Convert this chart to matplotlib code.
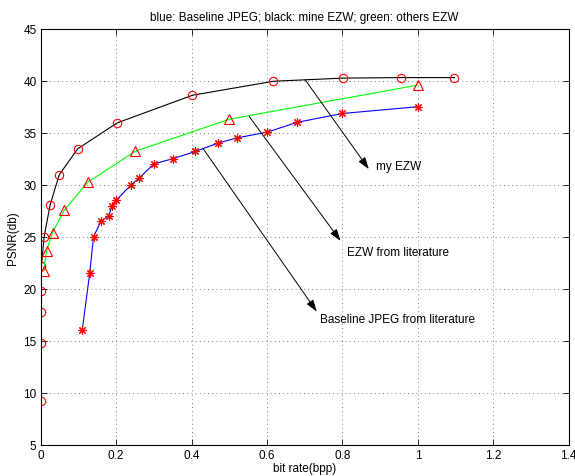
import matplotlib
matplotlib.use("Agg")
import matplotlib.pyplot as plt

plt.rcParams['font.family'] = ['Liberation Sans', 'DejaVu Sans']

# --- data ---
jpeg_rate = [0.11, 0.13, 0.14, 0.16, 0.18, 0.19, 0.20, 0.24, 0.26, 0.30, 0.35, 0.41,
             0.47, 0.52, 0.60, 0.68, 0.80, 1.00]
jpeg_psnr = [16.0, 21.5, 25.0, 26.5, 27.0, 28.0, 28.5, 30.0, 30.6, 32.0, 32.5, 33.2,
             34.0, 34.5, 35.05, 36.0, 36.85, 37.5]

mine_rate = [0.0, 0.0, 0.0, 0.0, 0.002, 0.009, 0.025, 0.049, 0.098, 0.203, 0.402,
             0.617, 0.801, 0.956, 1.097]
mine_psnr = [9.2, 14.8, 17.75, 19.8, 22.2, 25.0, 28.05, 30.95, 33.45, 35.95, 38.6,
             39.95, 40.25, 40.3, 40.3]

lit_rate = [0.0078, 0.0156, 0.0313, 0.0625, 0.125, 0.25, 0.5, 1.0]
lit_psnr = [21.7, 23.65, 25.4, 27.55, 30.25, 33.2, 36.3, 39.58]

xticks = [0, 0.2, 0.4, 0.6, 0.8, 1, 1.2, 1.4]
xticklabels = ['0', '0.2', '0.4', '0.6', '0.8', '1', '1.2', '1.4']
yticks = [5, 10, 15, 20, 25, 30, 35, 40, 45]

title = 'blue: Baseline JPEG; black: mine EZW; green: others EZW'
xlabel = 'bit rate(bpp)'
ylabel = 'PSNR(db)'

# annotations: (text, arrow tail, arrow head, text position)
notes = [
    ('my EZW', (0.701, 40.1), (0.870, 31.5), (0.890, 31.8)),
    ('EZW from literature', (0.553, 36.55), (0.795, 24.6), (0.811, 23.55)),
    ('Baseline JPEG from literature', (0.430, 33.5), (0.732, 17.8), (0.741, 17.1)),
]

fig = plt.figure(figsize=(5.75, 4.77), dpi=100)
ax = fig.add_axes([0.0708, 0.0656, 0.9183, 0.8721])

ax.plot(jpeg_rate, jpeg_psnr, '-', color='b', lw=0.8, marker=(8, 2, 0),
        markersize=6, markeredgecolor='r', markeredgewidth=0.8)
ax.plot(mine_rate, mine_psnr, '-', color='k', lw=0.8, marker='o', markersize=6,
        markerfacecolor='none', markeredgecolor='r', markeredgewidth=0.8)
ax.plot(lit_rate, lit_psnr, '-', color='#00ff00', lw=0.8, marker='^', markersize=6.5,
        markerfacecolor='none', markeredgecolor='r', markeredgewidth=0.8)

for txt, tail, head, tpos in notes:
    ax.annotate('', xy=head, xytext=tail,
                arrowprops=dict(arrowstyle='-|>,head_length=0.6,head_width=0.2',
                                color='k', lw=0.7, mutation_scale=12,
                                shrinkA=0, shrinkB=0))
    ax.text(tpos[0], tpos[1], txt, fontsize=8.5, ha='left', va='center', color='k')

ax.set_xlim(0, 1.4)
ax.set_ylim(5, 45)
ax.set_xticks(xticks)
ax.set_xticklabels(xticklabels)
ax.set_yticks(yticks)
ax.tick_params(direction='in', top=True, right=True, length=4, width=0.6,
               labelsize=8.5, pad=3)
ax.grid(True, linestyle=(0, (1, 4)), color='#555555', lw=0.6)
for s in ax.spines.values():
    s.set_linewidth(0.8)

ax.set_title(title, fontsize=8.5, pad=6)
ax.set_xlabel(xlabel, fontsize=8.5, labelpad=1)
ax.set_ylabel(ylabel, fontsize=8.5, labelpad=3)

fig.savefig('out.png', dpi=100)
